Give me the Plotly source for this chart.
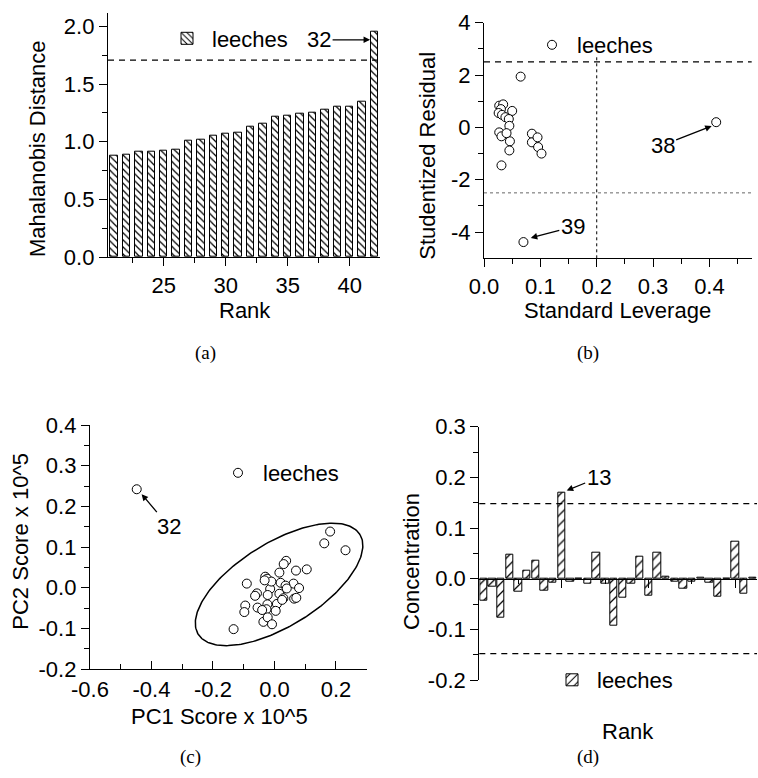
import numpy as np
import plotly.graph_objects as go

# ---------------- data ----------------
# (a) Mahalanobis distance vs rank
RANK_A = list(range(21, 43))
MAHAL = [0.88, 0.89, 0.91, 0.915, 0.925, 0.935, 1.01, 1.02, 1.05, 1.07, 1.08,
         1.13, 1.16, 1.22, 1.23, 1.24, 1.25, 1.28, 1.30, 1.30, 1.35, 1.955]
MAHAL_CUTOFF = 1.708

# (b) studentized residual vs standard leverage
LEVERAGE = [0.065, 0.412, 0.070,
            0.027, 0.034, 0.030, 0.026, 0.032, 0.050, 0.038, 0.044, 0.045,
            0.027, 0.031, 0.046, 0.045, 0.031, 0.040, 0.085, 0.085, 0.095,
            0.096, 0.102]
RESIDUAL = [1.94, 0.20, -4.38,
            0.83, 0.88, 0.70, 0.55, 0.48, 0.63, 0.39, 0.32, 0.06,
            -0.19, -0.34, -0.53, -0.88, -1.45, -0.22, -0.24, -0.57, -0.38,
            -0.75, -1.00]
RES_LIMIT = 2.5
LEV_LIMIT = 0.2

# (c) PCA scores
PC1 = [-0.448, 0.181, 0.162, 0.231, -0.133, 0.105, 0.070, 0.038, 0.030, 0.016,
       -0.030, -0.024, -0.090, 0.020, 0.062, 0.080, 0.036, -0.014, -0.057, -0.063,
       -0.022, 0.016, 0.064, 0.071, 0.029, -0.095, -0.023, 0.008, -0.098, -0.055,
       -0.026, 0.004, -0.036, -0.022, -0.008, -0.040, -0.010, -0.032, 0.040, 0.025]
PC2 = [0.242, 0.138, 0.109, 0.092, -0.102, 0.045, 0.042, 0.066, 0.058, 0.037,
       0.027, 0.022, 0.010, 0.012, 0.010, -0.001, 0.005, -0.003, -0.014, -0.020,
       -0.018, -0.015, -0.027, -0.025, -0.026, -0.044, -0.041, -0.040, -0.060, -0.049,
       -0.053, -0.057, -0.084, -0.073, -0.090, -0.055, 0.015, 0.018, -0.002, -0.030]
ELLIPSE_CENTER = (0.015, 0.008)
ELLIPSE_MAJOR = (0.263, 0.1227)
ELLIPSE_MINOR = (-0.0712, 0.0873)

# (d) concentration vs rank
RANK_D = list(range(1, 33))
CONC = [-0.043, -0.015, -0.078, 0.048, -0.026, 0.016, 0.036, -0.023, -0.008, 0.170,
        -0.005, 0.0, -0.010, 0.052, -0.010, -0.093, -0.037, -0.010, 0.043, -0.033,
        0.052, 0.003, -0.006, -0.020, -0.005, 0.001, -0.007, -0.035, 0.0, 0.073,
        -0.030, 0.001]
CONC_LIMIT = 0.148

# ---------------- styling helpers ----------------
W, H = 758, 778
FONT = "Liberation Sans, Arial, sans-serif"
FS = 22


def px(x):
    return x / W


def py(y):
    return 1 - y / H


def axis_common(**kw):
    d = dict(showline=True, linecolor="black", linewidth=1.3, ticks="outside",
             ticklen=8, tickwidth=1.3, tickcolor="black", showgrid=False,
             zeroline=False, mirror=False,
             tickfont=dict(family=FONT, size=FS, color="black"))
    d.update(kw)
    return d


def minor(vals, ln=5, side="outside"):
    return dict(tickvals=vals, ticklen=ln, tickwidth=1.3, tickcolor="black", ticks=side)


fig = go.Figure()

# (a) bars
fig.add_trace(go.Bar(
    x=RANK_A, y=MAHAL, width=0.6, name="leeches", xaxis="x", yaxis="y",
    marker=dict(color="white", line=dict(color="black", width=1),
                pattern=dict(shape="\\", size=5, solidity=0.25, fgcolor="black",
                             bgcolor="white", fillmode="replace")),
    legend="legend"))

# (b) scatter
fig.add_trace(go.Scatter(
    x=LEVERAGE, y=RESIDUAL, mode="markers", name="leeches", xaxis="x2", yaxis="y2",
    marker=dict(symbol="circle", size=9, color="white", line=dict(color="black", width=1)),
    legend="legend2"))

# (c) ellipse + scatter
t = np.linspace(0, 2 * np.pi, 241)
ex = ELLIPSE_CENTER[0] + np.cos(t) * ELLIPSE_MAJOR[0] + np.sin(t) * ELLIPSE_MINOR[0]
ey = ELLIPSE_CENTER[1] + np.cos(t) * ELLIPSE_MAJOR[1] + np.sin(t) * ELLIPSE_MINOR[1]
fig.add_trace(go.Scatter(x=ex, y=ey, mode="lines", line=dict(color="black", width=1.5),
                         xaxis="x3", yaxis="y3", showlegend=False, hoverinfo="skip"))
fig.add_trace(go.Scatter(
    x=PC1, y=PC2, mode="markers", name="leeches", xaxis="x3", yaxis="y3",
    marker=dict(symbol="circle", size=9, color="white", line=dict(color="black", width=1)),
    legend="legend3"))

# (d) bars
fig.add_trace(go.Bar(
    x=RANK_D, y=CONC, width=0.85, name="leeches", xaxis="x4", yaxis="y4",
    marker=dict(color="white", line=dict(color="black", width=1),
                pattern=dict(shape="/", size=7, solidity=0.18, fgcolor="black",
                             bgcolor="white", fillmode="replace")),
    legend="legend4"))

# ---------------- axes ----------------
dom_a_x = [px(108), px(380)]
dom_a_y = [py(257), py(12.7)]
dom_b_x = [px(484), px(751.7)]
dom_b_y = [py(258.3), py(22.7)]
dom_c_x = [px(90), px(366.7)]
dom_c_y = [py(669), py(425)]
dom_d_x = [px(479.3), px(757)]
dom_d_y = [py(680), py(426.7)]

neg_b_y = [-4, -2, 0, 2, 4]
neg_c_x = [-0.6, -0.4, -0.2, 0.0, 0.2]
neg_c_y = [-0.2, -0.1, 0.0, 0.1, 0.2, 0.3, 0.4]
neg_d_y = [-0.2, -0.1, 0.0, 0.1, 0.2, 0.3]


def lab(v, fmt):
    return fmt % v


fig.update_layout(
    width=W, height=H, margin=dict(l=0, r=0, t=0, b=0, autoexpand=False),
    paper_bgcolor="white", plot_bgcolor="white",
    font=dict(family=FONT, size=FS, color="black"),
    bargap=0,
    xaxis=axis_common(domain=dom_a_x, anchor="y", range=[20.5, 42.45],
                      tickvals=[25, 30, 35, 40],
                      minor=minor([22.5, 27.5, 32.5, 37.5, 42.5])),
    yaxis=axis_common(domain=dom_a_y, anchor="x", range=[0, 2.12],
                      tickvals=[0, 0.5, 1.0, 1.5, 2.0], tickformat=".1f",
                      minor=minor([0.25, 0.75, 1.25, 1.75])),
    xaxis2=axis_common(domain=dom_b_x, anchor="y2", range=[0, 0.475],
                       tickvals=[0, 0.1, 0.2, 0.3, 0.4], tickformat=".1f",
                       minor=minor([0.05, 0.15, 0.25, 0.35, 0.45])),
    yaxis2=axis_common(domain=dom_b_y, anchor="x2", range=[-5, 4],
                       tickvals=neg_b_y, ticktext=[lab(v, "%d") for v in neg_b_y],
                       minor=minor([-3, -1, 1, 3])),
    xaxis3=axis_common(domain=dom_c_x, anchor="y3", range=[-0.6, 0.3], ticks="inside",
                       tickvals=neg_c_x, ticktext=[lab(v, "%.1f") for v in neg_c_x],
                       minor=minor([-0.5, -0.3, -0.1, 0.1, 0.3], 5, "inside")),
    yaxis3=axis_common(domain=dom_c_y, anchor="x3", range=[-0.2, 0.4],
                       tickvals=neg_c_y, ticktext=[lab(v, "%.1f") for v in neg_c_y],
                       minor=minor([-0.15, -0.05, 0.05, 0.15, 0.25, 0.35])),
    xaxis4=axis_common(domain=dom_d_x, anchor="free",
                       position=dom_d_y[0] + (0 - (-0.2)) / 0.5 * (dom_d_y[1] - dom_d_y[0]),
                       range=[0.5, 32.5], tickvals=[10, 20, 30], showticklabels=False,
                       minor=minor([5, 15, 25], 4)),
    yaxis4=axis_common(domain=dom_d_y, anchor="x4", range=[-0.2, 0.3],
                       tickvals=neg_d_y, ticktext=[lab(v, "%.1f") for v in neg_d_y],
                       minor=minor([-0.15, -0.05, 0.05, 0.15, 0.25])),
)

leg_common = dict(bgcolor="rgba(255,255,255,0)", borderwidth=0,
                  font=dict(family=FONT, size=FS, color="black"),
                  xanchor="left", yanchor="middle", itemwidth=40, tracegroupgap=0)
fig.update_layout(
    legend=dict(x=px(162), y=py(38.5), **leg_common),
    legend2=dict(x=px(527), y=py(45), **leg_common),
    legend3=dict(x=px(213), y=py(473), **leg_common),
    legend4=dict(x=px(547), y=py(680), **leg_common),
)

# ---------------- reference lines ----------------
shapes = [
    dict(type="line", xref="x domain", yref="y", x0=0, x1=1, y0=MAHAL_CUTOFF, y1=MAHAL_CUTOFF,
         line=dict(color="black", width=1.3, dash="6px,5px")),
    dict(type="line", xref="x2 domain", yref="y2", x0=0, x1=1, y0=RES_LIMIT, y1=RES_LIMIT,
         line=dict(color="black", width=1.3, dash="6px,5px")),
    dict(type="line", xref="x2 domain", yref="y2", x0=0, x1=1, y0=-RES_LIMIT, y1=-RES_LIMIT,
         line=dict(color="#666666", width=1, dash="3px,3px")),
    dict(type="line", xref="x2", yref="y2", x0=LEV_LIMIT, x1=LEV_LIMIT, y0=-5, y1=2.75,
         line=dict(color="black", width=1, dash="3px,3px")),
    dict(type="line", xref="x4 domain", yref="y4", x0=0, x1=1, y0=CONC_LIMIT, y1=CONC_LIMIT,
         line=dict(color="black", width=1.3, dash="6px,5px")),
    dict(type="line", xref="x4 domain", yref="y4", x0=0, x1=1, y0=-CONC_LIMIT, y1=-CONC_LIMIT,
         line=dict(color="black", width=1.3, dash="6px,5px")),
]
fig.update_layout(shapes=shapes)

# ---------------- annotations ----------------
ann = []
arrow = dict(showarrow=True, arrowhead=2, arrowsize=1, arrowwidth=1.3, arrowcolor="black",
             font=dict(family=FONT, size=FS, color="black"))
ann.append(dict(text="32", xref="x", yref="y", x=RANK_A[-1] - 0.35, y=MAHAL[-1] - 0.07,
                ax=-51, ay=0, **arrow))
ann.append(dict(text="38", xref="x2", yref="y2", x=LEVERAGE[1] - 0.008, y=RESIDUAL[1] - 0.15,
                ax=-49, ay=19, **arrow))
ann.append(dict(text="39", xref="x2", yref="y2", x=LEVERAGE[2] + 0.013, y=RESIDUAL[2] + 0.16,
                ax=42, ay=-11, **arrow))
ann.append(dict(text="32", xref="x3", yref="y3", x=PC1[0] + 0.016, y=PC2[0] - 0.012,
                ax=27, ay=32, **arrow))
ann.append(dict(text="13", xref="x4", yref="y4", x=RANK_D[9] + 0.57, y=CONC[9] + 0.004,
                ax=32, ay=-13, **arrow))

title_font = dict(family=FONT, size=FS, color="black")
titles = [
    ("Mahalanobis Distance", 37, 149, -90),
    ("Rank", 245, 310, 0),
    ("Studentized Residual", 426.7, 156, -90),
    ("Standard Leverage", 617.5, 310, 0),
    ("PC2 Score x 10^5", 21, 541.7, -90),
    ("PC1 Score x 10^5", 219, 716, 0),
    ("Concentration", 411, 562, -90),
    ("Rank", 628, 731, 0),
]
for txt, x, y, ang in titles:
    ann.append(dict(text=txt, xref="paper", yref="paper", x=px(x), y=py(y),
                    xanchor="center", yanchor="middle", textangle=ang, showarrow=False,
                    font=title_font))

cap_font = dict(family="Liberation Serif, DejaVu Serif, serif", size=19, color="black")
for txt, x, y in [("(a)", 205, 353), ("(b)", 588, 353), ("(c)", 190, 757), ("(d)", 588, 757)]:
    ann.append(dict(text=txt, xref="paper", yref="paper", x=px(x), y=py(y),
                    xanchor="center", yanchor="middle", showarrow=False, font=cap_font))

fig.update_layout(annotations=ann)

fig.write_html("out.html")
